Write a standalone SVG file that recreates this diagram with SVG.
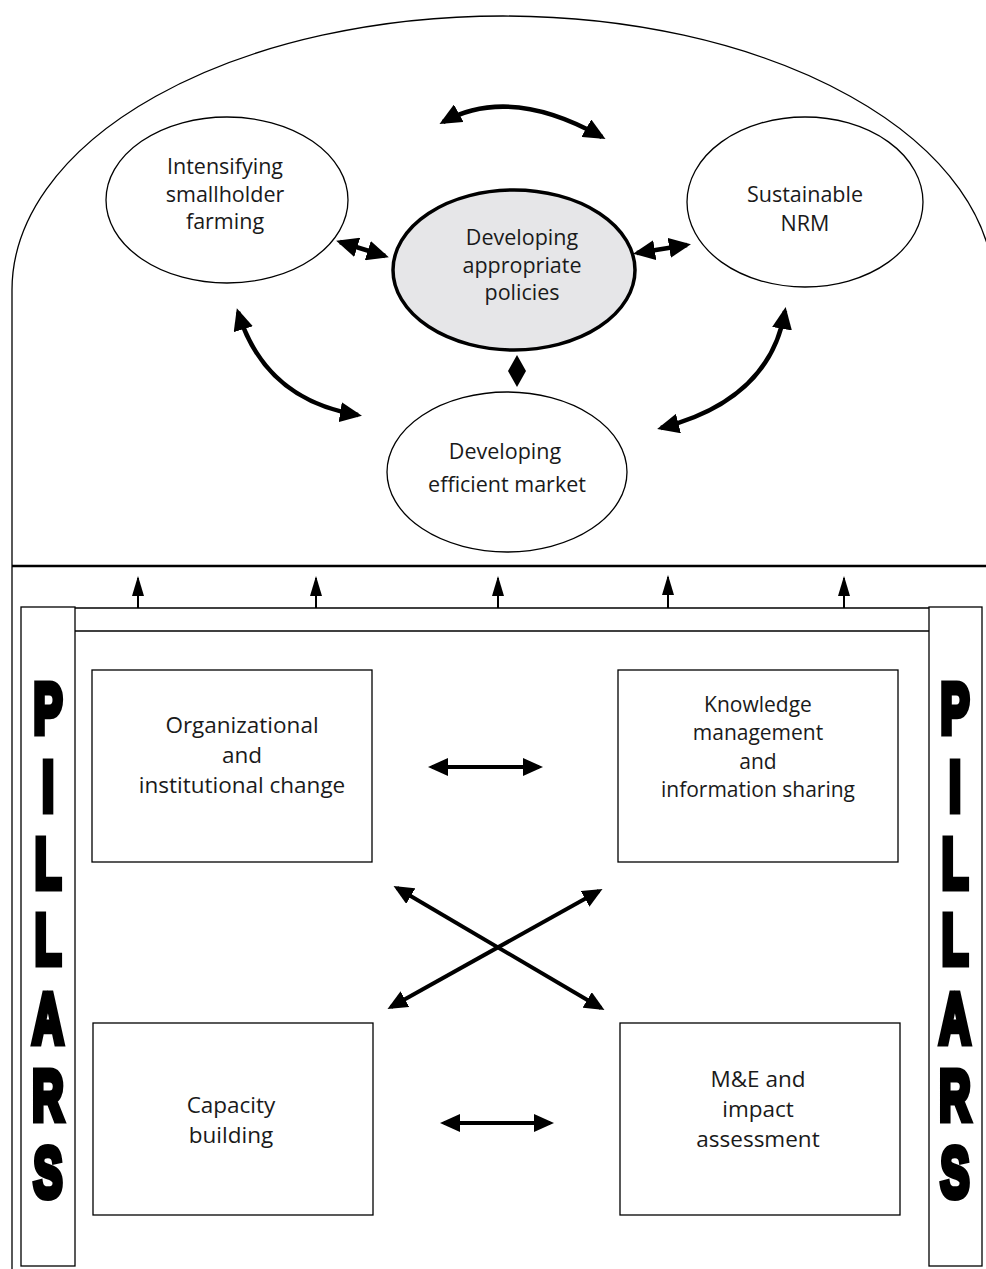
<svg xmlns="http://www.w3.org/2000/svg" width="986" height="1269" viewBox="0 0 986 1269">
<style>
.t{font-family:"Open Sans","Noto Sans",sans-serif;font-size:21.5px;fill:#1a1a1a;text-anchor:middle}
.b{font-size:22.5px}
.k{font-size:21px}
.p{font-family:"Liberation Sans",Arial,sans-serif;font-weight:bold;font-size:70px;fill:#000;stroke:#000;stroke-width:7;stroke-linejoin:miter;text-anchor:middle}
.el{fill:#fff;stroke:#000;stroke-width:1.3}
.bx{fill:#fff;stroke:#000;stroke-width:1.3}
.thick{fill:none;stroke:#000;stroke-width:4.5}
.mid{fill:none;stroke:#000;stroke-width:4}
.thin{fill:none;stroke:#000;stroke-width:2}
</style>
<defs>
<marker id="ah" markerUnits="userSpaceOnUse" markerWidth="22" markerHeight="20" viewBox="0 0 22 20" refX="18" refY="10" orient="auto-start-reverse">
<path d="M0,0 L22,10 L0,20 Z" fill="#000"/>
</marker>
<marker id="ah2" markerUnits="userSpaceOnUse" markerWidth="20" markerHeight="18" viewBox="0 0 20 18" refX="16" refY="9" orient="auto-start-reverse">
<path d="M0,0 L20,9 L0,18 Z" fill="#000"/>
</marker>
<marker id="au" markerUnits="userSpaceOnUse" markerWidth="20" markerHeight="12" viewBox="0 0 20 12" refX="18" refY="6" orient="auto">
<path d="M0,0 L20,6 L0,12 Z" fill="#000"/>
</marker>
</defs>

<g id="frame">
<path d="M12,1269 L12,290 A491,274 0 0 1 994,290" fill="none" stroke="#000" stroke-width="1.3"/>
<line x1="12" y1="566" x2="986" y2="566" stroke="#000" stroke-width="2.5"/>
<line x1="75" y1="608" x2="929" y2="608" stroke="#000" stroke-width="1.5"/>
<line x1="75" y1="631" x2="929" y2="631" stroke="#000" stroke-width="1.3"/>
</g>

<g id="pillar-left">
<rect x="21" y="607" width="54" height="659" class="bx"/>
<g transform="translate(48 0) scale(0.62 1)">
<text class="p" x="0" y="733">P</text>
<text class="p" x="0" y="811">I</text>
<text class="p" x="0" y="888">L</text>
<text class="p" x="0" y="964">L</text>
<text class="p" x="0" y="1043">A</text>
<text class="p" x="0" y="1120">R</text>
<text class="p" x="0" y="1197">S</text>
</g>
</g>

<g id="pillar-right">
<rect x="929" y="607" width="53" height="659" class="bx"/>
<g transform="translate(955 0) scale(0.62 1)">
<text class="p" x="0" y="733">P</text>
<text class="p" x="0" y="811">I</text>
<text class="p" x="0" y="888">L</text>
<text class="p" x="0" y="964">L</text>
<text class="p" x="0" y="1043">A</text>
<text class="p" x="0" y="1120">R</text>
<text class="p" x="0" y="1197">S</text>
</g>
</g>

<g id="n-intensifying">
<ellipse cx="227" cy="200" rx="121" ry="83" class="el"/>
<text class="t" x="225" y="174">Intensifying</text>
<text class="t" x="225" y="202">smallholder</text>
<text class="t" x="225" y="229">farming</text>
</g>

<g id="n-nrm">
<ellipse cx="805" cy="202" rx="118" ry="85" class="el"/>
<text class="t" x="805" y="202">Sustainable</text>
<text class="t" x="805" y="231">NRM</text>
</g>

<g id="n-policies">
<ellipse cx="514" cy="270" rx="121" ry="80" fill="#e6e6e8" stroke="#000" stroke-width="3.5"/>
<text class="t" x="522" y="245">Developing</text>
<text class="t" x="522" y="273">appropriate</text>
<text class="t" x="522" y="300">policies</text>
</g>

<g id="n-market">
<ellipse cx="507" cy="472" rx="120" ry="80" class="el"/>
<text class="t" x="505" y="459">Developing</text>
<text class="t" x="507" y="492">efficient market</text>
</g>

<g id="n-org">
<rect x="92" y="670" width="280" height="192" class="bx"/>
<text class="t b" x="242" y="733">Organizational</text>
<text class="t b" x="242" y="763">and</text>
<text class="t b" x="242" y="793">institutional change</text>
</g>

<g id="n-knowledge">
<rect x="618" y="670" width="280" height="192" class="bx"/>
<text class="t k" x="758" y="712">Knowledge</text>
<text class="t k" x="758" y="740">management</text>
<text class="t k" x="758" y="769">and</text>
<text class="t k" x="758" y="797">information sharing</text>
</g>

<g id="n-capacity">
<rect x="93" y="1023" width="280" height="192" class="bx"/>
<text class="t b" x="231" y="1113">Capacity</text>
<text class="t b" x="231" y="1143">building</text>
</g>

<g id="n-me">
<rect x="620" y="1023" width="280" height="192" class="bx"/>
<text class="t b" x="758" y="1087">M&amp;E and</text>
<text class="t b" x="758" y="1117">impact</text>
<text class="t b" x="758" y="1147">assessment</text>
</g>

<g id="connectors">
<path d="M443,122 Q510,85 602,137" class="thick" marker-start="url(#ah)" marker-end="url(#ah)"/>
<path d="M238,312 Q265,400 358,415" class="thick" marker-start="url(#ah)" marker-end="url(#ah)"/>
<path d="M785,311 Q770,400 661,428" class="thick" marker-start="url(#ah)" marker-end="url(#ah)"/>
<path d="M340,242 L385,256" class="thick" marker-start="url(#ah)" marker-end="url(#ah)"/>
<path d="M637,253 L687,245" class="thick" marker-start="url(#ah)" marker-end="url(#ah)"/>
<polygon points="517,355 526,371 517,387 508,371" fill="#000"/>
<path d="M432,767 L539,767" class="mid" marker-start="url(#ah2)" marker-end="url(#ah2)"/>
<path d="M444,1123 L550,1123" class="mid" marker-start="url(#ah2)" marker-end="url(#ah2)"/>
<path d="M397,888 L601,1008" class="mid" marker-start="url(#ah2)" marker-end="url(#ah2)"/>
<path d="M391,1007 L599,891" class="mid" marker-start="url(#ah2)" marker-end="url(#ah2)"/>
<path d="M138,608 L138,578" class="thin" marker-end="url(#au)"/>
<path d="M316,608 L316,578" class="thin" marker-end="url(#au)"/>
<path d="M498,608 L498,578" class="thin" marker-end="url(#au)"/>
<path d="M668,608 L668,577" class="thin" marker-end="url(#au)"/>
<path d="M844,608 L844,578" class="thin" marker-end="url(#au)"/>
</g>
</svg>
